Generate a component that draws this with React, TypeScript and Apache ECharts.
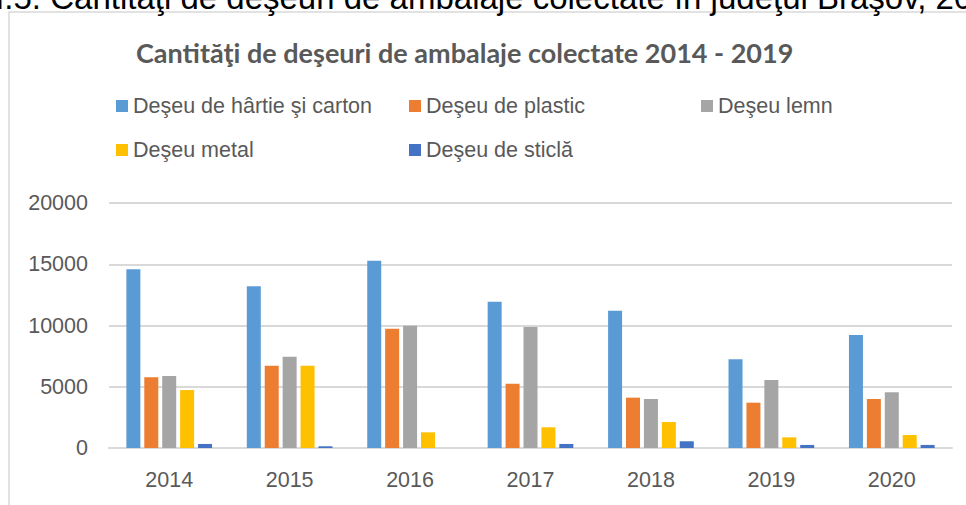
import React, { useEffect, useRef } from "react";
import * as echarts from "echarts";

const years = ["2014", "2015", "2016", "2017", "2018", "2019", "2020"];
const seriesNames = [
  "Deşeu de hârtie şi carton",
  "Deşeu de plastic",
  "Deşeu lemn",
  "Deşeu metal",
  "Deşeu de sticlă",
];
const paperValues = [14600, 13200, 15290, 11940, 11210, 7240, 9220];
const plasticValues = [5770, 6720, 9740, 5250, 4110, 3700, 4000];
const woodValues = [5880, 7450, 9980, 9880, 4000, 5550, 4550];
const metalValues = [4730, 6720, 1280, 1690, 2120, 870, 1060];
const glassValues = [330, 140, 0, 330, 550, 250, 250];
const colors = ["#5B9BD5", "#ED7D31", "#A5A5A5", "#FFC000", "#4472C4"];
const chartTitle = "Cantităţi de deşeuri de ambalaje colectate 2014 - 2019";
const pageHeading = "VII.5. Cantităţi de deşeuri de ambalaje colectate în judeţul Braşov, 2014-2020";

export default function App() {
  const ref = useRef<HTMLDivElement>(null);
  useEffect(() => {
    if (!ref.current) return;
    const chart = echarts.init(ref.current, null, { renderer: "svg" });
    const allValues = [paperValues, plasticValues, woodValues, metalValues, glassValues];
    const legendText = { color: "#595959", fontSize: 21.5, fontFamily: "Liberation Sans" };
    const legendBase = {
      orient: "vertical" as const,
      top: 90,
      itemWidth: 12,
      itemHeight: 12,
      itemGap: 22,
      icon: "rect",
      textStyle: legendText,
    };
    chart.setOption({
      animation: false,
      backgroundColor: "#ffffff",
      color: colors,
      graphic: [
        {
          type: "rect",
          shape: { x: 9, y: 12, width: 1000, height: 600 },
          style: { fill: "none", stroke: "#D9D9D9", lineWidth: 1.5 },
          z: 0,
        },
        {
          type: "text",
          x: -36,
          y: 14,
          style: {
            text: pageHeading,
            font: "33px 'Liberation Sans'",
            fill: "#000000",
            textVerticalAlign: "bottom",
          },
          z: 1,
        },
      ],
      title: {
        text: chartTitle,
        left: 131,
        top: 34,
        textStyle: { color: "#595959", fontSize: 27, fontWeight: "bold", fontFamily: "Lato" },
      },
      legend: [
        { ...legendBase, left: 111, data: [seriesNames[0], seriesNames[3]] },
        { ...legendBase, left: 404, data: [seriesNames[1], seriesNames[4]] },
        { ...legendBase, left: 696, data: [seriesNames[2]] },
      ],
      grid: { left: 109, right: 14, top: 203, bottom: 57 },
      xAxis: {
        type: "category",
        data: years,
        axisLine: { lineStyle: { color: "#D9D9D9", width: 2 } },
        axisTick: { show: false },
        axisLabel: { color: "#595959", fontSize: 21.5, fontFamily: "Liberation Sans", margin: 21 },
      },
      yAxis: {
        type: "value",
        min: 0,
        max: 20000,
        interval: 5000,
        axisLine: { show: false },
        axisTick: { show: false },
        splitLine: { lineStyle: { color: "#D9D9D9", width: 2 } },
        axisLabel: {
          color: "#595959",
          fontSize: 21.5,
          fontFamily: "Liberation Sans",
          margin: 21,
          formatter: (v: number) => String(v),
        },
      },
      series: seriesNames.map((name, i) => ({
        name,
        type: "bar",
        data: allValues[i],
        barWidth: 14,
        barGap: "28%",
        itemStyle: { color: colors[i] },
      })),
    });
    return () => chart.dispose();
  }, []);
  return (
    <div
      ref={ref}
      style={{ position: "fixed", left: 0, top: 0, width: 966, height: 505, background: "#fff" }}
    />
  );
}
